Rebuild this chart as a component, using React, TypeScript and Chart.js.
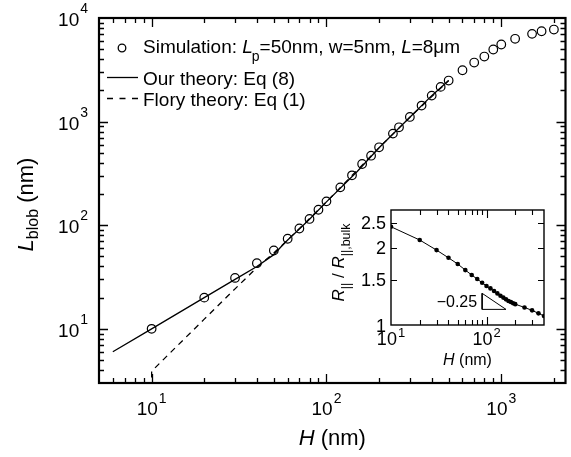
import React, { useEffect, useRef } from "react";
import { Chart, registerables } from "chart.js";
Chart.register(...registerables);

// ---------- data (main plot) ----------
const simH = [10, 20, 30, 40, 50, 60, 70, 80, 90, 100, 120, 140, 160, 180, 200, 240, 260, 300, 350, 400, 450, 500, 600, 700, 800, 900, 1000, 1200, 1500, 1700, 2000];
const simL = [10, 20, 31, 43, 57, 74, 93, 115, 141, 170, 232, 303, 390, 469, 565, 766, 881, 1109, 1428, 1782, 2163, 2490, 3130, 3715, 4245, 4966, 5550, 6300, 7030, 7450, 7740];

const theoryH = [6, 10, 20, 30, 40, 50, 55, 60, 70, 80, 100, 150, 200, 300, 400, 500];
const theoryL = [6, 10, 20, 30, 40, 52, 62, 72, 92, 114, 168, 330, 560, 1100, 1780, 2490];

const floryH = [10, 10, 20, 30, 40, 50, 60, 100, 200, 300, 500];
const floryL = [1, 3.9, 12.4, 24.3, 39, 54, 72, 168, 560, 1100, 2490];

const mainXMin = 5;
const mainXMax = 2330;
const mainYMin = 3;
const mainYMax = 10000;
const mainXTickLabels = [10, 100, 1000];
const mainYTickLabels = [10, 100, 1000, 10000];

// ---------- data (inset) ----------
const insetH = [10, 20, 30, 40, 50, 60, 70, 80, 90, 100, 110, 120, 130, 140, 150, 160, 170, 180, 190, 200, 250, 300, 350, 400];
const insetR = [2.41, 2.14, 1.955, 1.825, 1.726, 1.635, 1.564, 1.509, 1.46, 1.417, 1.388, 1.355, 1.327, 1.3, 1.278, 1.258, 1.24, 1.228, 1.215, 1.205, 1.17, 1.14, 1.11, 1.084];
const slopeTriH = [90, 90, 160, 90];
const slopeTriR = [1.328, 1.15, 1.15, 1.328];
const slopeLabel = "\u22120.25";

const insetXMin = 10;
const insetXMax = 400;
const insetYMin = 1;
const insetYMax = 2.8;
const insetXTickLabels = [10, 100];
const insetXMinor = [20, 30, 40, 50, 60, 70, 80, 90, 200, 300];
const insetYTicks = [1, 1.5, 2, 2.5];
const insetYTickText = ["1", "1.5", "2", "2.5"];

const FONT = '"Liberation Sans", Arial, Helvetica, sans-serif';

type Run = { text: string; size: number; italic?: boolean; dy?: number; dx?: number };

function runsWidth(ctx: CanvasRenderingContext2D, runs: Run[]) {
  let w = 0;
  for (const r of runs) {
    ctx.font = `${r.italic ? "italic " : ""}${r.size}px ${FONT}`;
    w += ctx.measureText(r.text).width + (r.dx || 0);
  }
  return w;
}

function drawRuns(ctx: CanvasRenderingContext2D, runs: Run[], x: number, y: number, align: "left" | "center" | "right") {
  const w = runsWidth(ctx, runs);
  let cx = align === "left" ? x : align === "center" ? x - w / 2 : x - w;
  ctx.textAlign = "left";
  ctx.textBaseline = "alphabetic";
  for (const r of runs) {
    ctx.font = `${r.italic ? "italic " : ""}${r.size}px ${FONT}`;
    cx += r.dx || 0;
    ctx.fillText(r.text, cx, y + (r.dy || 0));
    cx += ctx.measureText(r.text).width;
  }
}

function powRuns(v: number, base: number, exp: number, raise: number): Run[] {
  const e = String(Math.round(Math.log10(v)));
  return [
    { text: "10", size: base },
    { text: e, size: exp, dy: -raise, dx: 1 },
  ];
}

const mainPlugin = {
  id: "mainDecor",
  afterDraw(chart: any) {
    const { ctx, chartArea: a, scales } = chart;
    const xs = scales.x;
    const ys = scales.y;
    ctx.save();
    ctx.strokeStyle = "#000";
    ctx.fillStyle = "#000";
    ctx.lineWidth = 1.3;
    ctx.setLineDash([]);
    for (let e = 0; e <= 4; e++) {
      for (let m = 1; m <= 9; m++) {
        const v = m * Math.pow(10, e);
        const len = m === 1 ? 9 : 5;
        if (v > mainXMin + 1e-9 && v < mainXMax) {
          const px = Math.round(xs.getPixelForValue(v)) + 0.5;
          ctx.beginPath();
          ctx.moveTo(px, a.bottom);
          ctx.lineTo(px, a.bottom - len);
          ctx.moveTo(px, a.top);
          ctx.lineTo(px, a.top + len);
          ctx.stroke();
        }
        if (v > mainYMin + 1e-9 && v < mainYMax) {
          const py = Math.round(ys.getPixelForValue(v)) + 0.5;
          ctx.beginPath();
          ctx.moveTo(a.left, py);
          ctx.lineTo(a.left + len, py);
          ctx.moveTo(a.right, py);
          ctx.lineTo(a.right - len, py);
          ctx.stroke();
        }
      }
    }
    ctx.lineWidth = 2.2;
    ctx.strokeRect(a.left, a.top, a.right - a.left, a.bottom - a.top);

    // tick labels
    for (const v of mainXTickLabels) {
      const px = xs.getPixelForValue(v);
      drawRuns(ctx, powRuns(v, 19, 14, 12), px, a.bottom + 32, "center");
    }
    for (const v of mainYTickLabels) {
      const py = ys.getPixelForValue(v);
      drawRuns(ctx, powRuns(v, 19, 14, 13), a.left - 11, py + 8, "right");
    }

    // axis titles
    drawRuns(ctx, [
      { text: "H", size: 22, italic: true },
      { text: " (nm)", size: 22 },
    ], (a.left + a.right) / 2, 445, "center");

    ctx.save();
    ctx.translate(33, (a.top + a.bottom) / 2 + 4);
    ctx.rotate(-Math.PI / 2);
    drawRuns(ctx, [
      { text: "L", size: 22, italic: true },
      { text: "blob", size: 16, dy: 5 },
      { text: " (nm)", size: 22 },
    ], 0, 0, "center");
    ctx.restore();

    // legend
    ctx.lineWidth = 1.3;
    ctx.beginPath();
    ctx.arc(122, 48, 3.8, 0, Math.PI * 2);
    ctx.stroke();
    drawRuns(ctx, [
      { text: "Simulation: ", size: 19 },
      { text: "L", size: 19, italic: true },
      { text: "p", size: 14, dy: 8, dx: -1 },
      { text: "=50nm, w=5nm, ", size: 19 },
      { text: "L", size: 19, italic: true },
      { text: "=8\u03bcm", size: 19 },
    ], 143, 53, "left");

    ctx.beginPath();
    ctx.moveTo(107, 77.5);
    ctx.lineTo(138, 77.5);
    ctx.stroke();
    drawRuns(ctx, [{ text: "Our theory: Eq (8)", size: 19 }], 143, 85, "left");

    ctx.setLineDash([6, 6.5]);
    ctx.beginPath();
    ctx.moveTo(107, 98.5);
    ctx.lineTo(138, 98.5);
    ctx.stroke();
    ctx.setLineDash([]);
    drawRuns(ctx, [{ text: "Flory theory: Eq (1)", size: 19 }], 143, 106, "left");
    ctx.restore();
  },
};

// inset canvas placement
const INSET_LEFT = 330;
const INSET_TOP = 200;
const INSET_W = 230;
const INSET_H = 180;

const insetPlugin = {
  id: "insetDecor",
  afterDraw(chart: any) {
    const { ctx, chartArea: a, scales } = chart;
    const xs = scales.x;
    const ys = scales.y;
    ctx.save();
    ctx.strokeStyle = "#000";
    ctx.fillStyle = "#000";
    ctx.lineWidth = 1.1;
    // x ticks
    const xt = [...insetXMinor.map((v) => ({ v, len: 5 })), { v: 100, len: 8 }];
    for (const t of xt) {
      const px = Math.round(xs.getPixelForValue(t.v)) + 0.5;
      ctx.beginPath();
      ctx.moveTo(px, a.bottom);
      ctx.lineTo(px, a.bottom - t.len);
      ctx.moveTo(px, a.top);
      ctx.lineTo(px, a.top + t.len);
      ctx.stroke();
    }
    for (const v of insetYTicks) {
      if (v <= insetYMin) continue;
      const py = Math.round(ys.getPixelForValue(v)) + 0.5;
      ctx.beginPath();
      ctx.moveTo(a.left, py);
      ctx.lineTo(a.left + 6, py);
      ctx.moveTo(a.right, py);
      ctx.lineTo(a.right - 6, py);
      ctx.stroke();
    }
    ctx.lineWidth = 1.4;
    ctx.strokeRect(a.left, a.top, a.right - a.left, a.bottom - a.top);

    // tick labels
    insetYTicks.forEach((v, i) => {
      const py = ys.getPixelForValue(v);
      drawRuns(ctx, [{ text: insetYTickText[i], size: 18 }], a.left - 5, py + 6.5, "right");
    });
    for (const v of insetXTickLabels) {
      const px = xs.getPixelForValue(v);
      drawRuns(ctx, powRuns(v, 18, 13, 8), px, a.bottom + 20, "center");
    }

    // slope label
    const sx = xs.getPixelForValue(slopeTriH[0]);
    const sy = ys.getPixelForValue(slopeTriR[1]);
    drawRuns(ctx, [{ text: slopeLabel, size: 16 }], sx - 5, sy - 2, "right");

    // titles
    drawRuns(ctx, [
      { text: "H", size: 16, italic: true },
      { text: " (nm)", size: 16 },
    ], (a.left + a.right) / 2, a.bottom + 40, "center");

    ctx.save();
    ctx.translate(a.left - 47, (a.top + a.bottom) / 2 - 5);
    ctx.rotate(-Math.PI / 2);
    drawRuns(ctx, [
      { text: "R", size: 17, italic: true },
      { text: "||", size: 12.5, dy: 6 },
      { text: " / ", size: 17 },
      { text: "R", size: 17, italic: true },
      { text: "||,bulk", size: 12.5, dy: 6 },
    ], 0, 0, "center");
    ctx.restore();
    ctx.restore();
  },
};

export default function App() {
  const mainRef = useRef<HTMLCanvasElement | null>(null);
  const insetRef = useRef<HTMLCanvasElement | null>(null);

  useEffect(() => {
    if (!mainRef.current || !insetRef.current) return;
    const main = new Chart(mainRef.current, {
      type: "scatter",
      data: {
        datasets: [
          {
            label: "Simulation",
            data: simH.map((h, i) => ({ x: h, y: simL[i] })),
            showLine: false,
            pointRadius: 4.3,
            pointBorderWidth: 1.2,
            pointBackgroundColor: "rgba(0,0,0,0)",
            pointBorderColor: "#000",
            borderColor: "#000",
            backgroundColor: "rgba(0,0,0,0)",
          },
          {
            label: "Our theory",
            data: theoryH.map((h, i) => ({ x: h, y: theoryL[i] })),
            showLine: true,
            pointRadius: 0,
            borderColor: "#000",
            borderWidth: 1.3,
            backgroundColor: "rgba(0,0,0,0)",
          },
          {
            label: "Flory theory",
            data: floryH.map((h, i) => ({ x: h, y: floryL[i] })),
            showLine: true,
            pointRadius: 0,
            borderColor: "#000",
            borderWidth: 1.3,
            borderDash: [6, 5],
            backgroundColor: "rgba(0,0,0,0)",
          },
        ],
      },
      options: {
        responsive: false,
        animation: false,
        devicePixelRatio: 1,
        events: [],
        layout: { padding: { left: 99, top: 18, right: 1, bottom: 74 } },
        scales: {
          x: { type: "logarithmic", min: mainXMin, max: mainXMax, display: false },
          y: { type: "logarithmic", min: mainYMin, max: mainYMax, display: false },
        },
        plugins: { legend: { display: false }, tooltip: { enabled: false } },
      },
      plugins: [mainPlugin],
    } as any);

    const inset = new Chart(insetRef.current, {
      type: "scatter",
      data: {
        datasets: [
          {
            label: "ratio",
            data: insetH.map((h, i) => ({ x: h, y: insetR[i] })),
            showLine: true,
            pointRadius: 2.3,
            pointBorderWidth: 0,
            pointBackgroundColor: "#000",
            borderColor: "#000",
            borderWidth: 1,
            backgroundColor: "#000",
          },
          {
            label: "slope",
            data: slopeTriH.map((h, i) => ({ x: h, y: slopeTriR[i] })),
            showLine: true,
            pointRadius: 0,
            borderColor: "#000",
            borderWidth: 1,
            backgroundColor: "rgba(0,0,0,0)",
          },
        ],
      },
      options: {
        responsive: false,
        animation: false,
        devicePixelRatio: 1,
        events: [],
        layout: {
          padding: {
            left: 391 - INSET_LEFT,
            top: 210 - INSET_TOP,
            right: INSET_LEFT + INSET_W - 544,
            bottom: INSET_TOP + INSET_H - 325,
          },
        },
        scales: {
          x: { type: "logarithmic", min: insetXMin, max: insetXMax, display: false },
          y: { type: "logarithmic", min: insetYMin, max: insetYMax, display: false },
        },
        plugins: { legend: { display: false }, tooltip: { enabled: false } },
      },
      plugins: [insetPlugin],
    } as any);

    return () => {
      main.destroy();
      inset.destroy();
    };
  }, []);

  return (
    <div style={{ position: "absolute", left: 0, top: 0, width: 571, height: 457, background: "#fff" }}>
      <canvas ref={mainRef} width={571} height={457} style={{ position: "absolute", left: 0, top: 0, width: 571, height: 457 }} />
      <canvas
        ref={insetRef}
        width={INSET_W}
        height={INSET_H}
        style={{ position: "absolute", left: INSET_LEFT, top: INSET_TOP, width: INSET_W, height: INSET_H }}
      />
    </div>
  );
}
